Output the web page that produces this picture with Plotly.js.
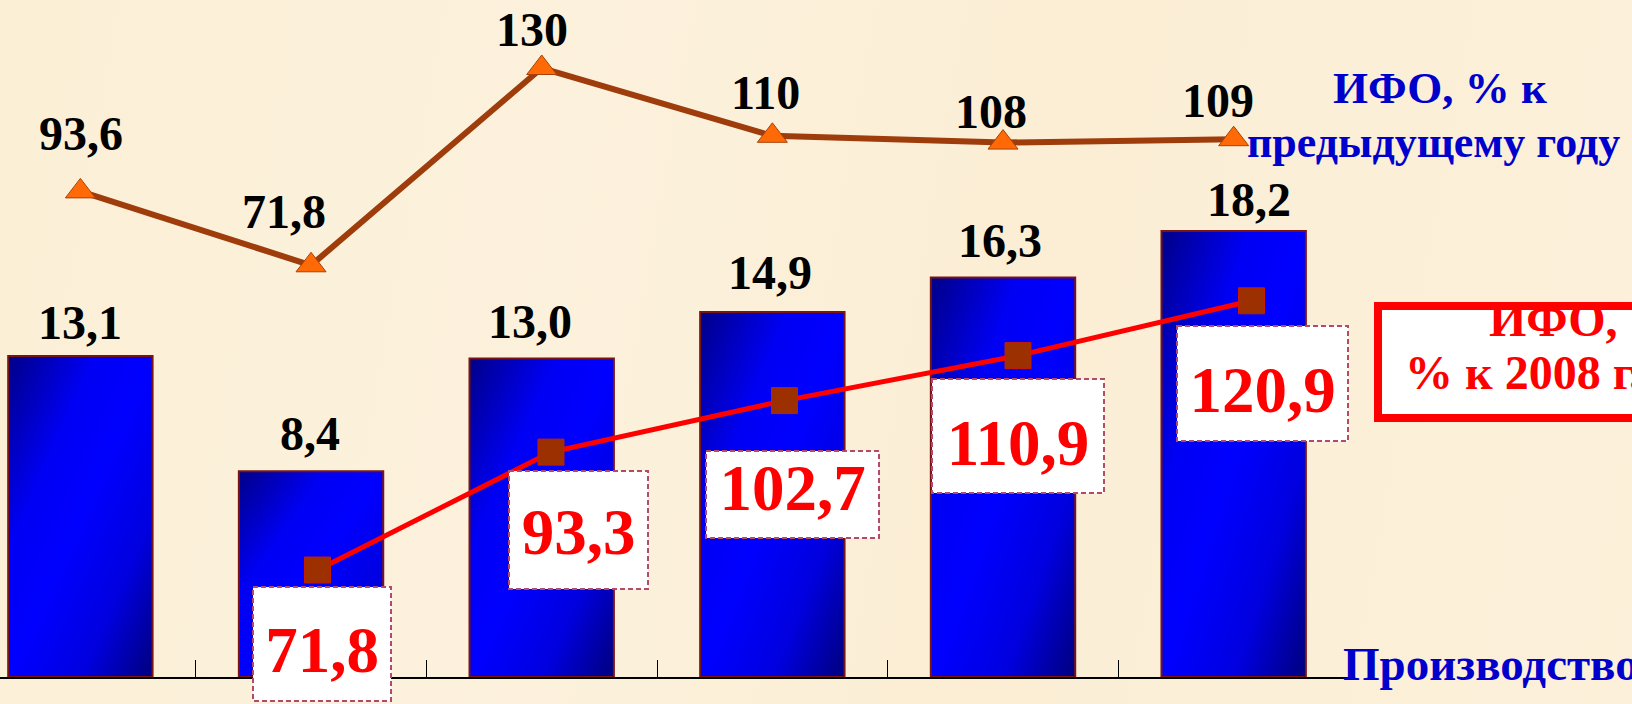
<!DOCTYPE html>
<html>
<head>
<meta charset="utf-8">
<script src="https://cdn.plot.ly/plotly-3.0.1.min.js"></script>
<style>
  html, body { margin: 0; padding: 0; }
  body { width: 1632px; height: 704px; overflow: hidden;
         background: linear-gradient(100deg, #FBEFD6 0%, #FCF1DC 35%, #FBEED5 60%, #FCF0DA 100%); }
  #chart { width: 1632px; height: 704px; }
</style>
</head>
<body>
<div id="chart"></div>
<script>
// ---------------- data ----------------
const years = ['2008', '2009', '2010', '2011', '2012', '2013'];
const production = [13.1, 8.4, 13.0, 14.9, 16.3, 18.2];          // bars
const ifoPrevYear = [93.6, 71.8, 130, 110, 108, 109];            // ИФО, % к предыдущему году
const ifo2008 = [null, 71.8, 93.3, 102.7, 110.9, 120.9];         // ИФО, % к 2008 г.

const fmt1 = v => v.toFixed(1).replace('.', ',');
const fmt = v => String(v).replace('.', ',');

// ---------------- layout helpers (positions, not data) ----------------
const W = 1632, H = 704;
const PL = 0, PT = 0, PW = 1349, PH = 677;      // plot area in page pixels
const px = x => (x - PL) / PW;
const py = y => 1 - (y - PT) / PH;

const SERIF = "'Liberation Serif', 'Times New Roman', serif";

// label offsets (pixels) for hand-placed data labels
const prodLabelShift = [[-0.5, 33.5], [-1.5, 38], [-12, 37], [-2.5, 39.5], [-3, 37], [15, 32]];
const prevLabelShift = [[0.5, 58], [-27, 54], [-10, 38.5], [-7, 43], [-12, 31], [-16, 39]];
const redBoxGeom = [null,
  {dx: 4.5, dy: -74, w: 138, h: 114, tdy: 6},
  {dx: 27.5, dy: -78, w: 139, h: 118, tdy: 2},
  {dx: 8, dy: -94, w: 173, h: 87, tdy: -7},
  {dx: 0, dy: -80.5, w: 172, h: 114, tdy: 7},
  {dx: 11, dy: -83, w: 171, h: 115, tdy: 6}];

// ---------------- traces ----------------
const traces = [
  {
    type: 'bar', x: years, y: production, xaxis: 'x', yaxis: 'y',
    marker: {color: '#0000E8', line: {color: '#7A1414', width: 2}},
    hoverinfo: 'skip'
  },
  {
    type: 'scatter', mode: 'lines+markers', x: years, y: ifoPrevYear, xaxis: 'x', yaxis: 'y2',
    line: {color: '#9E3C0C', width: 6},
    marker: {symbol: 'triangle-up', size: 26, color: '#FF6A06', line: {color: '#A84008', width: 1}},
    cliponaxis: false, hoverinfo: 'skip'
  },
  {
    type: 'scatter', mode: 'lines+markers', x: years, y: ifo2008, xaxis: 'x2', yaxis: 'y3',
    line: {color: '#FF0000', width: 5},
    marker: {symbol: 'square', size: 26, color: '#9C3000', line: {color: '#C81E00', width: 1}},
    cliponaxis: false, hoverinfo: 'skip', connectgaps: false
  }
];

// ---------------- annotations ----------------
// on category axes, annotation x is the category's serial number
const annotations = [];
production.forEach((v, i) => {
  annotations.push({
    xref: 'x', yref: 'y', x: i, y: v, text: fmt1(v), showarrow: false,
    xanchor: 'center', yanchor: 'middle',
    xshift: prodLabelShift[i][0], yshift: prodLabelShift[i][1],
    font: {family: SERIF, size: 48, color: '#000000', weight: 700}
  });
});
ifoPrevYear.forEach((v, i) => {
  annotations.push({
    xref: 'x', yref: 'y2', x: i, y: v, text: fmt(v), showarrow: false,
    xanchor: 'center', yanchor: 'middle',
    xshift: prevLabelShift[i][0], yshift: prevLabelShift[i][1],
    font: {family: SERIF, size: 48, color: '#000000', weight: 700}
  });
});
const redIdx = {};
ifo2008.forEach((v, i) => {
  if (v === null) return;
  const g = redBoxGeom[i];
  redIdx[annotations.length] = g.tdy;
  annotations.push({
    xref: 'x2', yref: 'y3', x: i, y: v, text: fmt1(v), showarrow: false,
    xanchor: 'center', yanchor: 'middle',
    xshift: g.dx, yshift: g.dy, width: g.w - 2, height: g.h - 2,
    align: 'center', valign: 'middle',
    bgcolor: '#FFFFFF', bordercolor: '#B24A6E', borderwidth: 2, borderpad: 0,
    font: {family: SERIF, size: 65, color: '#FF0000', weight: 700}
  });
});

// legend-like texts at the right
const blue = '#0000CC';
annotations.push(
  {xref: 'paper', yref: 'paper', x: px(1331), y: py(88), text: 'ИФО, % к', showarrow: false,
   xanchor: 'left', yanchor: 'middle', font: {family: SERIF, size: 45, color: blue, weight: 700}},
  {xref: 'paper', yref: 'paper', x: px(1245), y: py(142), text: 'предыдущему году', showarrow: false,
   xanchor: 'left', yanchor: 'middle', font: {family: SERIF, size: 44, color: blue, weight: 700}},
  {xref: 'paper', yref: 'paper', x: px(1487), y: py(319), text: 'ИФО,', showarrow: false,
   xanchor: 'left', yanchor: 'middle', font: {family: SERIF, size: 48, color: '#FF0000', weight: 700}},
  {xref: 'paper', yref: 'paper', x: px(1403), y: py(372), text: '% к 2008 г.', showarrow: false,
   xanchor: 'left', yanchor: 'middle', font: {family: SERIF, size: 48, color: '#FF0000', weight: 700}},
  {xref: 'paper', yref: 'paper', x: px(1341), y: py(664), text: 'Производство', showarrow: false,
   xanchor: 'left', yanchor: 'middle', font: {family: SERIF, size: 47, color: blue, weight: 700}}
);

const shapes = [
  {type: 'rect', xref: 'paper', yref: 'paper', x0: px(1378), x1: px(1680), y0: py(306), y1: py(418),
   line: {color: '#FF0000', width: 8}, fillcolor: '#FFFFFF', layer: 'above'}
];

const hidden = {visible: true, showgrid: false, zeroline: false, showline: false, ticks: '',
                showticklabels: false, fixedrange: true};

const layout = {
  width: W, height: H,
  margin: {l: PL, t: PT, r: W - PL - PW, b: H - PT - PH, pad: 0},
  paper_bgcolor: 'rgba(0,0,0,0)', plot_bgcolor: 'rgba(0,0,0,0)',
  showlegend: false, bargap: 0.374,
  xaxis: {type: 'category', range: [-0.3485, 5.5], showgrid: false, zeroline: false,
          showline: true, linecolor: '#000000', linewidth: 2,
          ticks: 'inside', tickson: 'boundaries', ticklen: 17, tickwidth: 1, tickcolor: '#000000',
          showticklabels: false, fixedrange: true},
  xaxis2: Object.assign({}, hidden, {type: 'category', overlaying: 'x', range: [-0.3597, 5.4176]}),
  yaxis: Object.assign({}, hidden, {range: [0, 27.63]}),
  yaxis2: Object.assign({}, hidden, {overlaying: 'y', range: [-49.65, 150.06]}),
  yaxis3: Object.assign({}, hidden, {overlaying: 'y', anchor: 'x2', range: [52.29, 175.76]}),
  annotations: annotations,
  shapes: shapes
};

Plotly.newPlot('chart', traces, layout, {staticPlot: true, displayModeBar: false}).then(gd => {
  // gradient fill for bars
  const svg = gd.querySelector('svg.main-svg');
  const NS = 'http://www.w3.org/2000/svg';
  let defs = svg.querySelector('defs');
  if (!defs) { defs = document.createElementNS(NS, 'defs'); svg.insertBefore(defs, svg.firstChild); }
  const lg = document.createElementNS(NS, 'linearGradient');
  lg.setAttribute('id', 'barGrad');
  lg.setAttribute('x1', '0'); lg.setAttribute('y1', '0');
  lg.setAttribute('x2', '1'); lg.setAttribute('y2', '1');
  [['0', '#000088'], ['0.3', '#0000F4'], ['0.5', '#0000FF'], ['0.75', '#0000E0'], ['1', '#00007E']].forEach(([o, c]) => {
    const s = document.createElementNS(NS, 'stop');
    s.setAttribute('offset', o); s.setAttribute('stop-color', c);
    lg.appendChild(s);
  });
  defs.appendChild(lg);
  gd.querySelectorAll('.barlayer .point path').forEach(p => { p.style.fill = 'url(#barGrad)'; });
  // dashed borders on the red value boxes, and the text's offset inside its box
  gd.querySelectorAll('.annotation').forEach(a => {
    const idx = a.getAttribute('data-index');
    if (idx !== null && Object.prototype.hasOwnProperty.call(redIdx, idx)) {
      const r = a.querySelector('rect.bg');
      if (r) { r.style.strokeDasharray = '5,3'; }
      const t = a.querySelector('text');
      if (t) { t.setAttribute('transform', 'translate(0,' + redIdx[idx] + ')'); }
    }
  });
});
</script>
</body>
</html>
